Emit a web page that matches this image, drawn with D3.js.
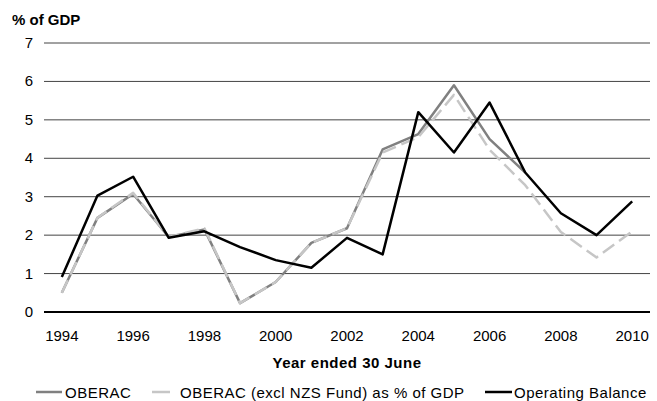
<!DOCTYPE html>
<html lang="en">
<head>
<meta charset="UTF-8">
<title>OBERAC and Operating Balance</title>
<script src="https://d3js.org/d3.v7.min.js"></script>
<style>
  body { margin: 0; background: #fff; }
  text { font-family: "Liberation Sans", Arial, sans-serif; }
</style>
</head>
<body>
<script>
// data
const years = [1994, 1995, 1996, 1997, 1998, 1999, 2000, 2001, 2002, 2003, 2004, 2005, 2006, 2007, 2008, 2009, 2010];
const oberac = [0.5, 2.45, 3.07, 1.95, 2.15, 0.23, 0.78, 1.8, 2.18, 4.23, 4.63, 5.9, 4.5, 3.63];
const oberacExNzs = [0.5, 2.45, 3.1, 1.95, 2.18, 0.23, 0.78, 1.8, 2.18, 4.15, 4.55, 5.65, 4.22, 3.3, 2.08, 1.42, 2.1];
const operatingBalance = [0.91, 3.03, 3.52, 1.93, 2.1, 1.69, 1.35, 1.15, 1.93, 1.5, 5.2, 4.15, 5.45, 3.63, 2.57, 2.0, 2.88];
const yTicks = [0, 1, 2, 3, 4, 5, 6, 7];
const xTickYears = [1994, 1996, 1998, 2000, 2002, 2004, 2006, 2008, 2010];

const width = 657, height = 401;
const margin = {left: 44, right: 7, top: 43, bottom: 89};
const fs = 15;

const svg = d3.select("body").append("svg")
  .attr("width", width).attr("height", height);

const x = d3.scaleBand()
  .domain(years)
  .range([margin.left, width - margin.right]);

const y = d3.scaleLinear()
  .domain([0, 7])
  .range([height - margin.bottom, margin.top]);

const cx = d => x(d) + x.bandwidth() / 2;

// gridlines
svg.append("g").selectAll("line")
  .data(yTicks.filter(t => t > 0))
  .enter().append("line")
  .attr("x1", margin.left).attr("x2", width - margin.right)
  .attr("y1", d => y(d)).attr("y2", d => y(d))
  .attr("stroke", "#444").attr("stroke-width", 1);

// zero axis
svg.append("line")
  .attr("x1", margin.left).attr("x2", width - margin.right)
  .attr("y1", y(0)).attr("y2", y(0))
  .attr("stroke", "#000").attr("stroke-width", 2);

// y tick labels
svg.append("g").selectAll("text")
  .data(yTicks)
  .enter().append("text")
  .attr("x", 33).attr("y", d => y(d) + 5)
  .attr("text-anchor", "end")
  .attr("font-size", fs)
  .text(d => d);

// x tick labels
svg.append("g").selectAll("text")
  .data(xTickYears)
  .enter().append("text")
  .attr("x", d => cx(d)).attr("y", 341)
  .attr("text-anchor", "middle")
  .attr("font-size", fs)
  .text(d => d);

svg.append("text")
  .attr("x", 12).attr("y", 25)
  .attr("font-size", fs).attr("font-weight", "bold")
  .text("% of GDP");

svg.append("text")
  .attr("x", (margin.left + width - margin.right) / 2).attr("y", 368)
  .attr("text-anchor", "middle")
  .attr("font-size", fs).attr("font-weight", "bold")
  .attr("letter-spacing", 0.5)
  .text("Year ended 30 June");

const line = d3.line()
  .x((d, i) => cx(years[i]))
  .y(d => y(d));

const series = [
  {name: "OBERAC", values: oberac, color: "#808080", dash: null},
  {name: "OBERAC (excl NZS Fund) as % of GDP", values: oberacExNzs, color: "#c6c6c6", dash: "14,6"},
  {name: "Operating Balance", values: operatingBalance, color: "#000", dash: null}
];

// grey solid, then dashed, then black on top
series.forEach(s => {
  svg.append("path").datum(s.values)
    .attr("d", line).attr("fill", "none")
    .attr("stroke", s.color).attr("stroke-width", 2.5)
    .attr("stroke-dasharray", s.dash)
    .attr("stroke-linejoin", "round");
});

// legend
const legendItems = [
  {x1: 36, x2: 62, tx: 65, s: series[0]},
  {x1: 152, x2: 170, tx: 180, s: series[1]},
  {x1: 485, x2: 512, tx: 514, s: series[2]}
];
const legend = svg.append("g");
legendItems.forEach(it => {
  legend.append("line")
    .attr("x1", it.x1).attr("x2", it.x2)
    .attr("y1", 392).attr("y2", 392)
    .attr("stroke", it.s.color).attr("stroke-width", 2.5);
  legend.append("text")
    .attr("x", it.tx).attr("y", 398)
    .attr("font-size", fs)
    .attr("letter-spacing", 0.5)
    .text(it.s.name);
});
</script>
</body>
</html>
